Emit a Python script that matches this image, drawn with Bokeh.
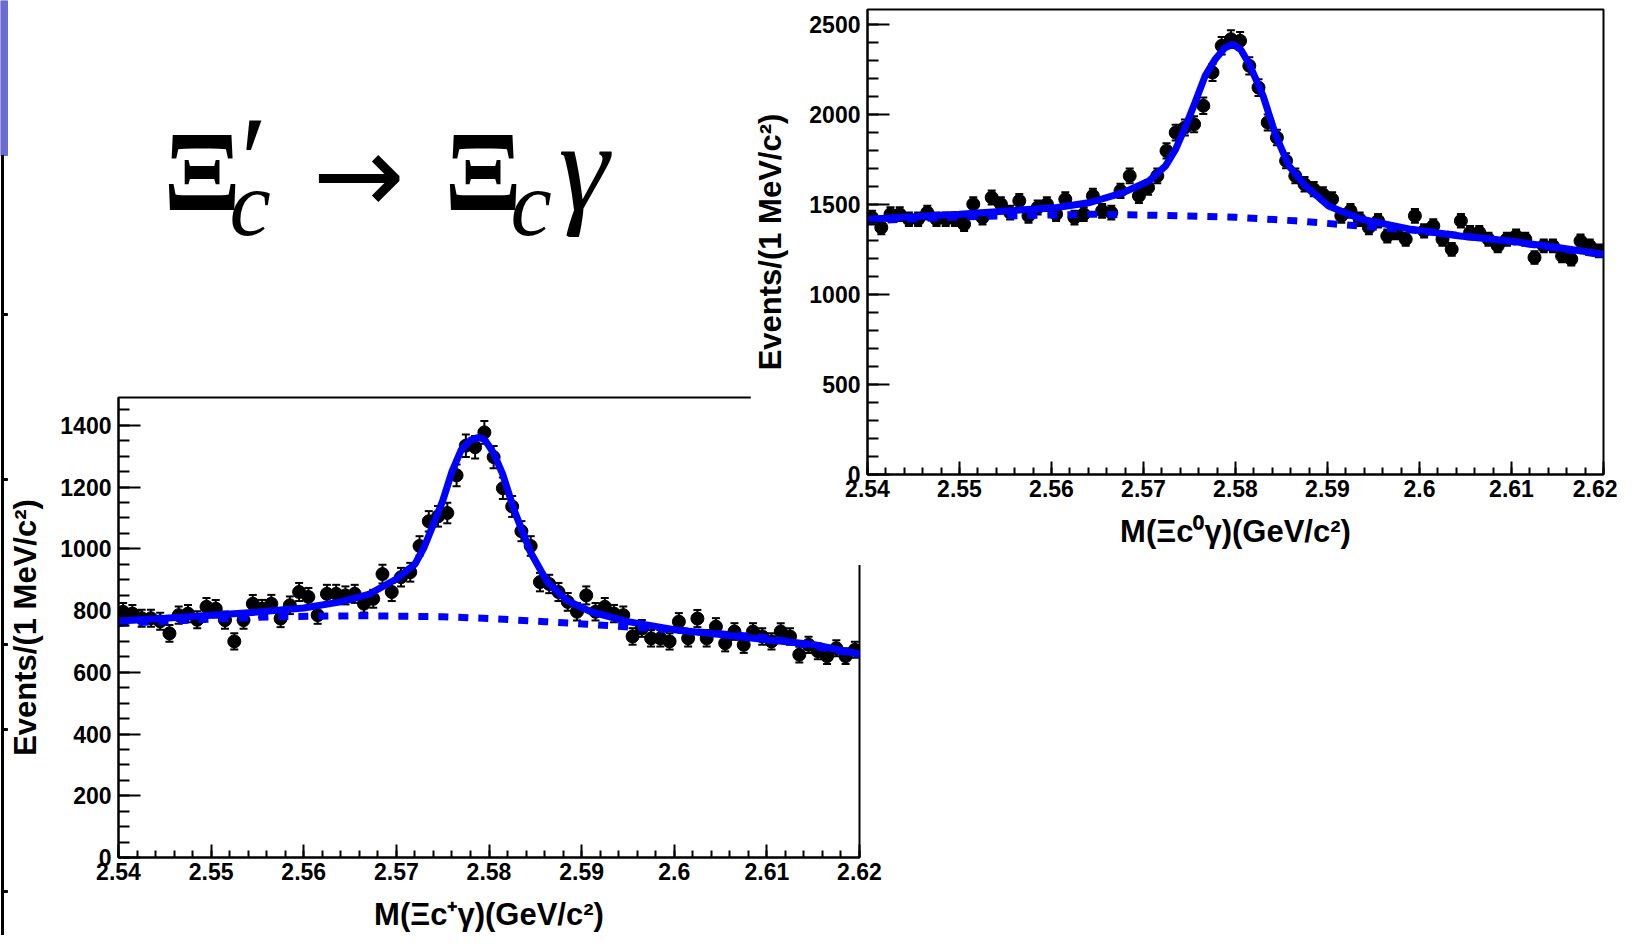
import numpy as np
from bokeh.core.properties import value
from bokeh.embed import file_html
from bokeh.resources import INLINE
from bokeh.plotting import figure
from bokeh.models import (ColumnDataSource, Range1d, SingleIntervalTicker, CustomJSTickFormatter,
                          Whisker, TeeHead, GridBox)

# 1 MeV bins between 2.54 and 2.62 GeV/c^2
mass = np.round(np.arange(2.5405, 2.62, 0.001), 4)

# M(Xi_c+ gamma), events per bin
xi_plus_counts = [796, 790, 775, 775, 765, 726, 785, 790, 770, 812,
                  806, 769, 700, 769, 822, 806, 822, 774, 817, 860,
                  844, 785, 854, 854, 849, 854, 822, 838, 918, 860,
                  908, 924, 1009, 1089, 1105, 1116, 1238, 1334, 1329, 1377,
                  1297, 1196, 1137, 1057, 1009, 892, 886, 860, 828, 796,
                  849, 796, 812, 790, 785, 716, 742, 710, 710, 700,
                  764, 710, 774, 710, 748, 694, 732, 689, 732, 716,
                  700, 732, 716, 657, 689, 668, 652, 678, 652, 673]

# M(Xi_c0 gamma), events per bin
xi_zero_counts = [1428, 1373, 1447, 1447, 1419, 1419, 1456, 1419, 1419, 1419,
                  1391, 1503, 1428, 1540, 1503, 1456, 1521, 1438, 1484, 1503,
                  1447, 1530, 1428, 1447, 1549, 1466, 1456, 1577, 1660, 1549,
                  1595, 1660, 1799, 1901, 1929, 1947, 2050, 2235, 2383, 2420,
                  2411, 2272, 2151, 1957, 1873, 1744, 1660, 1614, 1586, 1558,
                  1530, 1438, 1466, 1419, 1373, 1410, 1326, 1345, 1308, 1438,
                  1354, 1382, 1308, 1252, 1410, 1345, 1345, 1308, 1271, 1308,
                  1326, 1308, 1206, 1271, 1271, 1215, 1197, 1298, 1271, 1243]

# fit curves (total and background)
xi_plus_fit_x = [2.540, 2.545, 2.550, 2.555, 2.560, 2.564, 2.567, 2.570, 2.572, 2.573,
                 2.574, 2.575, 2.576, 2.577, 2.578, 2.5788, 2.5795, 2.5805, 2.5815, 2.5827,
                 2.5845, 2.5863, 2.5884, 2.591, 2.595, 2.600, 2.605, 2.610, 2.615, 2.620]
xi_plus_fit_y = [766, 775, 785, 795, 808, 828, 852, 902, 950, 1005,
                 1080, 1155, 1250, 1320, 1352, 1360, 1355, 1310, 1240, 1126,
                 988, 892, 833, 796, 764, 738, 722, 705, 690, 659]
xi_plus_bkg_x = [2.540, 2.550, 2.557, 2.566, 2.575, 2.580, 2.586, 2.5935, 2.600, 2.610, 2.620]
xi_plus_bkg_y = [758, 772, 780, 783, 780, 774, 764, 750, 737, 712, 657]

xi_zero_fit_x = [2.540, 2.550, 2.5606, 2.5642, 2.5678, 2.5706, 2.5724, 2.5735, 2.5746, 2.5756,
                 2.5767, 2.5778, 2.5788, 2.5797, 2.5806, 2.5815, 2.5830, 2.5844, 2.5858, 2.5876,
                 2.5901, 2.5937, 2.5991, 2.6044, 2.6098, 2.6152, 2.620]
xi_zero_fit_y = [1419, 1447, 1484, 1512, 1567, 1632, 1716, 1809, 1938, 2068,
                 2216, 2309, 2370, 2392, 2360, 2281, 2105, 1882, 1716, 1604,
                 1493, 1419, 1363, 1326, 1298, 1261, 1224]
xi_zero_bkg_x = [2.540, 2.550, 2.5642, 2.5715, 2.580, 2.5865, 2.5912, 2.600, 2.610, 2.620]
xi_zero_bkg_y = [1410, 1432, 1447, 1441, 1430, 1410, 1391, 1355, 1295, 1220]

# slide title pieces: text, anchor x, anchor y (page pixels), font, size, style
title_text = ["Ξ", "′", "c", "→", "Ξ", "c", "γ"]
title_x = [163, 232, 229, 312, 444, 510, 558]
title_y = [171, 160, 203, 174, 171, 203, 166]
title_font = ["Liberation Serif", "Liberation Serif", "Liberation Serif", "DejaVu Sans",
              "Liberation Serif", "Liberation Serif", "Liberation Serif"]
title_size = ["114px", "125px", "93px", "110px", "114px", "93px", "128px"]
title_style = ["bold", "italic", "italic", "normal", "bold", "italic", "italic"]

# remains of the slide's left edge: purple tab, a rule and its ticks
edge_ticks = [313, 478, 643, 728, 890]

BLUE = "#0000ff"
AXIS_FONT = "Liberation Sans"


def make_panel(counts, fit_x, fit_y, bkg_x, bkg_y, y_top, y_step, y_minor, x_title,
               width, height, left, right, top, bottom, ytitle_standoff):
    p = figure(width=width, height=height, title=None,
               x_range=Range1d(2.54, 2.62), y_range=Range1d(0, y_top),
               toolbar_location=None, output_backend="svg",
               min_border_left=left, min_border_right=right,
               min_border_top=top, min_border_bottom=bottom,
               outline_line_color="black", outline_line_width=2, outline_line_alpha=1)
    p.xgrid.grid_line_color = None
    p.ygrid.grid_line_color = None

    p.xaxis.ticker = SingleIntervalTicker(interval=0.01, num_minor_ticks=5)
    p.xaxis.formatter = CustomJSTickFormatter(code="return parseFloat(tick.toFixed(3)).toString()")
    p.yaxis.ticker = SingleIntervalTicker(interval=y_step, num_minor_ticks=y_minor)

    for ax in (p.xaxis[0], p.yaxis[0]):
        ax.axis_line_width = 2
        ax.axis_line_color = "black"
        ax.major_tick_line_width = 2
        ax.minor_tick_line_width = 2
        ax.major_tick_line_color = "black"
        ax.minor_tick_line_color = "black"
        ax.major_tick_out = 0
        ax.minor_tick_out = 0
        ax.major_label_text_font = AXIS_FONT
        ax.major_label_text_font_style = "bold"
        ax.major_label_text_font_size = "23px"
        ax.major_label_text_color = "black"
        ax.axis_label_text_font = AXIS_FONT
        ax.axis_label_text_font_style = "bold"
        ax.axis_label_text_font_size = "31px"
        ax.axis_label_text_color = "black"

    p.xaxis.major_tick_in = 13
    p.xaxis.minor_tick_in = 7
    p.xaxis.major_label_standoff = 5
    p.xaxis.axis_label_standoff = 14
    p.xaxis.axis_label = x_title

    p.yaxis.major_tick_in = 22
    p.yaxis.minor_tick_in = 11
    p.yaxis.major_label_standoff = 7
    p.yaxis.axis_label_standoff = ytitle_standoff
    p.yaxis.axis_label = "Events/(1 MeV/c²)"

    counts = np.array(counts, dtype=float)
    err = np.sqrt(counts)
    src = ColumnDataSource(dict(x=mass, y=counts, lo=counts - err, hi=counts + err))
    p.add_layout(Whisker(source=src, base="x", lower="lo", upper="hi", level="underlay",
                         line_color="black", line_width=2,
                         lower_head=TeeHead(size=8, line_width=2, line_color="black"),
                         upper_head=TeeHead(size=8, line_width=2, line_color="black")))
    p.scatter("x", "y", source=src, size=13, color="black")

    p.line(bkg_x, bkg_y, line_color=BLUE, line_width=7, line_dash="10 10")
    p.line(fit_x, fit_y, line_color=BLUE, line_width=7)
    return p


# background sheet in page pixels, carries the title and the slide edge
sheet = figure(width=750, height=935, title=None, x_range=Range1d(0, 750), y_range=Range1d(935, 0),
               toolbar_location=None, output_backend="svg", x_axis_location=None,
               y_axis_location=None, min_border=0, outline_line_color=None)
for g in sheet.grid:
    g.visible = False
title_src = ColumnDataSource(dict(text=title_text, x=title_x, y=title_y, font=title_font,
                                  size=title_size, style=title_style))
sheet.text("x", "y", text="text", source=title_src, text_font="font", text_font_size="size",
           text_font_style="style", text_baseline=value("alphabetic"), text_color="black")
sheet.quad(left=0, right=7, top=0, bottom=155, color="#6b6bd0")
sheet.quad(left=1, right=3, top=155, bottom=935, color="black")
sheet.quad(left=1, right=7, top=edge_ticks, bottom=[t + 2 for t in edge_ticks], color="black")

# lower-left panel (Xi_c+), upper-right panel (Xi_c0)
p_plus = make_panel(xi_plus_counts, xi_plus_fit_x, xi_plus_fit_y, xi_plus_bkg_x, xi_plus_bkg_y,
                    1490, 200, 4, "M(Ξc⁺γ)(GeV/c²)",
                    892, 634, 117, 34, 97, 72, 14)
p_plus.border_fill_alpha = 0
p_zero = make_panel(xi_zero_counts, xi_zero_fit_x, xi_zero_fit_y, xi_zero_bkg_x, xi_zero_bkg_y,
                    2585, 500, 5, "M(Ξc⁰γ)(GeV/c²)",
                    867, 564, 113, 14, 8, 91, 18)

page = GridBox(children=[(sheet, 0, 0, 5, 2), (p_plus, 2, 1, 2, 2), (p_zero, 1, 2, 2, 2)],
               rows=["1px", "299px", "265px", "369px", "1px"],
               cols=["1px", "749px", "143px", "724px"], spacing=0)

open("out.html", "w", encoding="utf-8").write(file_html(page, INLINE))
